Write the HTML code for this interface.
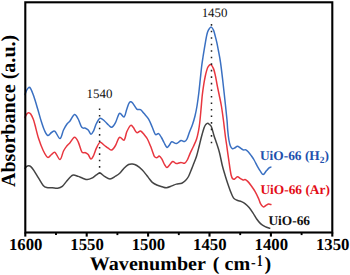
<!DOCTYPE html>
<html><head><meta charset="utf-8"><style>
html,body{margin:0;padding:0;background:#fff;width:350px;height:275px;overflow:hidden}
svg{display:block}
text{font-family:"Liberation Serif",serif;text-rendering:geometricPrecision}
.tl{font-size:16.75px;font-weight:bold;fill:#000}
.ax{font-size:20.1px;font-weight:bold;fill:#000}
.pk{font-size:12.9px;fill:#111}
.lg{font-size:13.4px;font-weight:bold}
</style></head><body>
<svg width="350" height="275" viewBox="0 0 350 275">
<rect x="0" y="0" width="350" height="275" fill="#fff"/>
<g fill="none" stroke-linejoin="round" stroke-linecap="round">
<path d="M25.00 168.30 C25.30 167.97 26.20 166.72 26.80 166.30 C27.40 165.88 27.93 165.75 28.60 165.80 C29.27 165.85 29.93 165.85 30.80 166.60 C31.67 167.35 32.50 168.37 33.80 170.30 C35.10 172.23 37.03 175.67 38.60 178.20 C40.17 180.73 41.83 183.93 43.20 185.50 C44.57 187.07 45.28 187.22 46.80 187.60 C48.32 187.98 50.48 187.70 52.30 187.80 C54.12 187.90 56.03 188.43 57.70 188.20 C59.37 187.97 60.78 187.60 62.30 186.40 C63.82 185.20 65.28 182.73 66.80 181.00 C68.32 179.27 70.27 177.02 71.40 176.00 C72.53 174.98 72.47 174.83 73.60 174.90 C74.73 174.97 76.68 175.85 78.20 176.40 C79.72 176.95 81.18 177.67 82.70 178.20 C84.22 178.73 85.78 179.60 87.30 179.60 C88.82 179.60 90.28 178.98 91.80 178.20 C93.32 177.42 95.03 175.75 96.40 174.90 C97.77 174.05 98.65 172.85 100.00 173.10 C101.35 173.35 102.83 175.40 104.50 176.40 C106.17 177.40 108.17 179.13 110.00 179.10 C111.83 179.07 113.83 177.22 115.50 176.20 C117.17 175.18 118.58 174.33 120.00 173.00 C121.42 171.67 122.57 169.62 124.00 168.20 C125.43 166.78 127.18 165.20 128.60 164.50 C130.02 163.80 131.13 163.83 132.50 164.00 C133.87 164.17 135.17 164.50 136.80 165.50 C138.43 166.50 140.63 168.33 142.30 170.00 C143.97 171.67 145.60 174.00 146.80 175.50 C148.00 177.00 148.58 177.87 149.50 179.00 C150.42 180.13 151.08 181.30 152.30 182.30 C153.52 183.30 155.13 184.25 156.80 185.00 C158.47 185.75 160.70 186.35 162.30 186.80 C163.90 187.25 164.82 187.85 166.40 187.70 C167.98 187.55 170.13 186.50 171.80 185.90 C173.47 185.30 174.73 184.55 176.40 184.10 C178.07 183.65 180.28 183.80 181.80 183.20 C183.32 182.60 184.38 181.62 185.50 180.50 C186.62 179.38 187.58 178.17 188.50 176.50 C189.42 174.83 190.22 172.42 191.00 170.50 C191.78 168.58 192.27 167.42 193.20 165.00 C194.13 162.58 195.60 159.17 196.60 156.00 C197.60 152.83 198.40 149.17 199.20 146.00 C200.00 142.83 200.58 140.05 201.40 137.00 C202.22 133.95 203.37 129.78 204.10 127.70 C204.83 125.62 205.20 125.25 205.80 124.50 C206.40 123.75 207.08 123.20 207.70 123.20 C208.32 123.20 208.88 123.90 209.50 124.50 C210.12 125.10 210.63 124.90 211.40 126.80 C212.17 128.70 213.25 133.20 214.10 135.90 C214.95 138.60 215.60 140.20 216.50 143.00 C217.40 145.80 218.53 148.95 219.50 152.70 C220.47 156.45 221.38 161.78 222.30 165.50 C223.22 169.22 224.10 172.00 225.00 175.00 C225.90 178.00 226.78 180.77 227.70 183.50 C228.62 186.23 229.75 189.40 230.50 191.40 C231.25 193.40 231.57 194.27 232.20 195.50 C232.83 196.73 233.38 197.97 234.30 198.80 C235.22 199.63 236.50 200.03 237.70 200.50 C238.90 200.97 240.23 201.05 241.50 201.60 C242.77 202.15 244.03 202.80 245.30 203.80 C246.57 204.80 247.83 206.08 249.10 207.60 C250.37 209.12 251.63 211.00 252.90 212.90 C254.17 214.80 255.43 217.22 256.70 219.00 C257.97 220.78 259.10 222.33 260.50 223.60 C261.90 224.87 263.57 225.82 265.10 226.60 C266.63 227.38 268.93 228.02 269.70 228.30" stroke="#444" stroke-width="1.5"/>
<path d="M25.00 117.50 C25.27 116.97 26.02 115.08 26.60 114.30 C27.18 113.52 27.82 112.85 28.50 112.80 C29.18 112.75 29.90 112.92 30.70 114.00 C31.50 115.08 32.58 117.47 33.30 119.30 C34.02 121.13 34.12 121.78 35.00 125.00 C35.88 128.22 37.23 134.35 38.60 138.60 C39.97 142.85 41.68 147.37 43.20 150.50 C44.72 153.63 46.32 156.73 47.70 157.40 C49.08 158.07 50.28 155.35 51.50 154.50 C52.72 153.65 53.58 151.47 55.00 152.30 C56.42 153.13 58.58 159.72 60.00 159.50 C61.42 159.28 62.37 153.25 63.50 151.00 C64.63 148.75 65.72 147.38 66.80 146.00 C67.88 144.62 68.72 144.15 70.00 142.70 C71.28 141.25 73.13 137.45 74.50 137.30 C75.87 137.15 76.98 139.38 78.20 141.80 C79.42 144.22 80.58 149.98 81.80 151.80 C83.02 153.62 84.43 152.25 85.50 152.70 C86.57 153.15 87.30 153.45 88.20 154.50 C89.10 155.55 90.00 158.83 90.90 159.00 C91.80 159.17 92.68 157.30 93.60 155.50 C94.52 153.70 95.33 150.38 96.40 148.20 C97.47 146.02 98.65 142.85 100.00 142.40 C101.35 141.95 103.13 144.53 104.50 145.50 C105.87 146.47 106.98 147.45 108.20 148.20 C109.42 148.95 110.58 150.45 111.80 150.00 C113.02 149.55 114.22 147.62 115.50 145.50 C116.78 143.38 118.07 138.18 119.50 137.30 C120.93 136.42 122.88 141.12 124.10 140.20 C125.32 139.28 125.73 134.25 126.80 131.80 C127.87 129.35 129.43 126.25 130.50 125.50 C131.57 124.75 132.15 126.10 133.20 127.30 C134.25 128.50 135.58 132.10 136.80 132.70 C138.02 133.30 139.28 130.60 140.50 130.90 C141.72 131.20 142.95 133.15 144.10 134.50 C145.25 135.85 146.33 137.08 147.40 139.00 C148.47 140.92 149.68 144.02 150.50 146.00 C151.32 147.98 151.63 149.13 152.30 150.90 C152.97 152.67 153.68 155.48 154.50 156.60 C155.32 157.72 156.42 157.70 157.20 157.60 C157.98 157.50 158.43 155.80 159.20 156.00 C159.97 156.20 161.08 157.72 161.80 158.80 C162.52 159.88 163.00 161.47 163.50 162.50 C164.00 163.53 164.23 164.15 164.80 165.00 C165.37 165.85 166.18 167.52 166.90 167.60 C167.62 167.68 168.13 166.52 169.10 165.50 C170.07 164.48 171.48 161.82 172.70 161.50 C173.92 161.18 175.03 163.45 176.40 163.60 C177.77 163.75 179.55 162.45 180.90 162.40 C182.25 162.35 183.43 163.70 184.50 163.30 C185.57 162.90 186.38 161.62 187.30 160.00 C188.22 158.38 188.98 155.85 190.00 153.60 C191.02 151.35 192.30 148.93 193.40 146.50 C194.50 144.07 195.75 141.58 196.60 139.00 C197.45 136.42 197.98 133.67 198.50 131.00 C199.02 128.33 199.28 126.58 199.70 123.00 C200.12 119.42 200.57 114.17 201.00 109.50 C201.43 104.83 201.83 99.22 202.30 95.00 C202.77 90.78 203.32 87.28 203.80 84.20 C204.28 81.12 204.75 78.68 205.20 76.50 C205.65 74.32 206.00 72.73 206.50 71.10 C207.00 69.47 207.47 67.78 208.20 66.70 C208.93 65.62 210.00 64.23 210.90 64.60 C211.80 64.97 212.87 67.10 213.60 68.90 C214.33 70.70 214.83 73.40 215.30 75.40 C215.77 77.40 216.05 79.07 216.40 80.90 C216.75 82.73 216.93 84.05 217.40 86.40 C217.87 88.75 218.53 91.73 219.20 95.00 C219.87 98.27 220.70 101.83 221.40 106.00 C222.10 110.17 222.87 116.00 223.40 120.00 C223.93 124.00 224.23 127.00 224.60 130.00 C224.97 133.00 225.23 135.33 225.60 138.00 C225.97 140.67 226.43 143.43 226.80 146.00 C227.17 148.57 227.45 150.90 227.80 153.40 C228.15 155.90 228.53 158.45 228.90 161.00 C229.27 163.55 229.63 166.37 230.00 168.70 C230.37 171.03 230.68 173.37 231.10 175.00 C231.52 176.63 231.97 177.80 232.50 178.50 C233.03 179.20 233.48 179.48 234.30 179.20 C235.12 178.92 236.37 176.90 237.40 176.80 C238.43 176.70 239.53 178.05 240.50 178.60 C241.47 179.15 242.45 179.95 243.20 180.10 C243.95 180.25 244.25 179.28 245.00 179.50 C245.75 179.72 246.63 180.32 247.70 181.40 C248.77 182.48 250.18 184.33 251.40 186.00 C252.62 187.67 253.80 189.30 255.00 191.40 C256.20 193.50 257.68 196.57 258.60 198.60 C259.52 200.63 259.73 202.22 260.50 203.60 C261.27 204.98 262.30 206.58 263.20 206.90 C264.10 207.22 265.00 205.97 265.90 205.50 C266.80 205.03 267.77 204.25 268.60 204.10 C269.43 203.95 270.52 204.52 270.90 204.60" stroke="#e8363f" stroke-width="1.5"/>
<path d="M25.00 94.50 C25.30 93.75 26.20 91.15 26.80 90.00 C27.40 88.85 27.98 87.88 28.60 87.60 C29.22 87.32 29.63 86.85 30.50 88.30 C31.37 89.75 32.60 92.85 33.80 96.30 C35.00 99.75 36.43 104.75 37.70 109.00 C38.97 113.25 40.27 118.22 41.40 121.80 C42.53 125.38 43.45 128.22 44.50 130.50 C45.55 132.78 46.53 135.17 47.70 135.50 C48.87 135.83 50.28 133.18 51.50 132.50 C52.72 131.82 53.58 130.38 55.00 131.40 C56.42 132.42 58.58 138.83 60.00 138.60 C61.42 138.37 62.33 132.43 63.50 130.00 C64.67 127.57 65.92 125.50 67.00 124.00 C68.08 122.50 68.75 122.58 70.00 121.00 C71.25 119.42 73.13 114.83 74.50 114.50 C75.87 114.17 76.98 116.87 78.20 119.00 C79.42 121.13 80.58 125.77 81.80 127.30 C83.02 128.83 84.43 127.75 85.50 128.20 C86.57 128.65 87.28 129.00 88.20 130.00 C89.12 131.00 90.10 134.07 91.00 134.20 C91.90 134.33 92.70 132.58 93.60 130.80 C94.50 129.02 95.32 125.60 96.40 123.50 C97.48 121.40 98.75 118.62 100.10 118.20 C101.45 117.78 103.10 119.87 104.50 121.00 C105.90 122.13 107.28 123.95 108.50 125.00 C109.72 126.05 110.63 127.68 111.80 127.30 C112.97 126.92 114.22 125.03 115.50 122.70 C116.78 120.37 118.08 114.25 119.50 113.30 C120.92 112.35 122.82 117.58 124.00 117.00 C125.18 116.42 125.83 111.97 126.60 109.80 C127.37 107.63 127.97 105.33 128.60 104.00 C129.23 102.67 129.73 101.97 130.40 101.80 C131.07 101.63 131.53 101.78 132.60 103.00 C133.67 104.22 135.48 108.00 136.80 109.10 C138.12 110.20 139.28 108.85 140.50 109.60 C141.72 110.35 142.75 112.02 144.10 113.60 C145.45 115.18 147.23 116.82 148.60 119.10 C149.97 121.38 151.17 124.73 152.30 127.30 C153.43 129.87 154.35 133.45 155.40 134.50 C156.45 135.55 157.60 133.10 158.60 133.60 C159.60 134.10 160.50 136.02 161.40 137.50 C162.30 138.98 163.08 140.87 164.00 142.50 C164.92 144.13 166.05 146.80 166.90 147.30 C167.75 147.80 168.28 146.42 169.10 145.50 C169.92 144.58 170.58 142.12 171.80 141.80 C173.02 141.48 174.88 143.82 176.40 143.60 C177.92 143.38 179.55 140.85 180.90 140.50 C182.25 140.15 183.48 141.75 184.50 141.50 C185.52 141.25 186.17 140.58 187.00 139.00 C187.83 137.42 188.58 134.42 189.50 132.00 C190.42 129.58 191.58 127.17 192.50 124.50 C193.42 121.83 194.25 119.08 195.00 116.00 C195.75 112.92 196.37 109.83 197.00 106.00 C197.63 102.17 198.25 97.50 198.80 93.00 C199.35 88.50 199.82 83.50 200.30 79.00 C200.78 74.50 201.25 69.67 201.70 66.00 C202.15 62.33 202.55 59.93 203.00 57.00 C203.45 54.07 203.98 50.93 204.40 48.40 C204.82 45.87 205.15 43.80 205.50 41.80 C205.85 39.80 206.15 38.03 206.50 36.40 C206.85 34.77 207.13 33.28 207.60 32.00 C208.07 30.72 208.68 29.52 209.30 28.70 C209.92 27.88 210.58 26.82 211.30 27.10 C212.02 27.38 212.93 28.85 213.60 30.40 C214.27 31.95 214.75 34.32 215.30 36.40 C215.85 38.48 216.42 40.72 216.90 42.90 C217.38 45.08 217.60 46.27 218.20 49.50 C218.80 52.73 219.75 57.22 220.50 62.30 C221.25 67.38 221.97 73.72 222.70 80.00 C223.43 86.28 224.18 93.33 224.90 100.00 C225.62 106.67 226.53 115.00 227.00 120.00 C227.47 125.00 227.38 126.67 227.70 130.00 C228.02 133.33 228.45 137.33 228.90 140.00 C229.35 142.67 229.82 144.55 230.40 146.00 C230.98 147.45 231.63 148.42 232.40 148.70 C233.17 148.98 234.17 148.10 235.00 147.70 C235.83 147.30 236.48 146.23 237.40 146.30 C238.32 146.37 239.53 147.50 240.50 148.10 C241.47 148.70 242.30 149.60 243.20 149.90 C244.10 150.20 245.00 149.50 245.90 149.90 C246.80 150.30 247.68 151.30 248.60 152.30 C249.52 153.30 250.48 154.62 251.40 155.90 C252.32 157.18 253.05 158.18 254.10 160.00 C255.15 161.82 256.63 164.90 257.70 166.80 C258.77 168.70 259.58 170.10 260.50 171.40 C261.42 172.70 262.22 174.70 263.20 174.60 C264.18 174.50 265.42 171.93 266.40 170.80 C267.38 169.67 268.35 168.42 269.10 167.80 C269.85 167.18 270.60 167.22 270.90 167.10" stroke="#3a70c2" stroke-width="1.5"/>
</g>
<line x1="99.6" y1="108.5" x2="99.6" y2="173.5" stroke="#222" stroke-width="1.5" stroke-dasharray="1.6 4.8"/>
<line x1="211.5" y1="24.1" x2="211.5" y2="143.5" stroke="#222" stroke-width="1.5" stroke-dasharray="1.6 4.93"/>
<rect x="25.3" y="2.3" width="307.0" height="230.2" fill="none" stroke="#000" stroke-width="2.1"/>
<line x1="25.30" y1="232.50" x2="25.30" y2="236.6" stroke="#000" stroke-width="2.1"/><line x1="86.70" y1="232.50" x2="86.70" y2="236.6" stroke="#000" stroke-width="2.1"/><line x1="148.10" y1="232.50" x2="148.10" y2="236.6" stroke="#000" stroke-width="2.1"/><line x1="209.50" y1="232.50" x2="209.50" y2="236.6" stroke="#000" stroke-width="2.1"/><line x1="270.90" y1="232.50" x2="270.90" y2="236.6" stroke="#000" stroke-width="2.1"/><line x1="332.30" y1="232.50" x2="332.30" y2="236.6" stroke="#000" stroke-width="2.1"/><line x1="56.00" y1="232.50" x2="56.00" y2="235.1" stroke="#000" stroke-width="1.9"/><line x1="117.40" y1="232.50" x2="117.40" y2="235.1" stroke="#000" stroke-width="1.9"/><line x1="178.80" y1="232.50" x2="178.80" y2="235.1" stroke="#000" stroke-width="1.9"/><line x1="240.20" y1="232.50" x2="240.20" y2="235.1" stroke="#000" stroke-width="1.9"/><line x1="301.60" y1="232.50" x2="301.60" y2="235.1" stroke="#000" stroke-width="1.9"/>
<text x="25.65" y="250.2" text-anchor="middle" class="tl">1600</text><text x="87.05" y="250.2" text-anchor="middle" class="tl">1550</text><text x="148.45" y="250.2" text-anchor="middle" class="tl">1500</text><text x="209.85" y="250.2" text-anchor="middle" class="tl">1450</text><text x="271.25" y="250.2" text-anchor="middle" class="tl">1400</text><text x="332.65" y="250.2" text-anchor="middle" class="tl">1350</text>
<text x="99.45" y="98" text-anchor="middle" class="pk">1540</text>
<text x="214.55" y="17.1" text-anchor="middle" class="pk">1450</text>
<text x="259.9" y="160.4" class="lg" fill="#2150ad">UiO-66 (H<tspan font-size="9.5px" dy="2.4">2</tspan><tspan dy="-2.4">)</tspan></text>
<text x="260.4" y="193.95" class="lg" fill="#e30d17">UiO-66 (Ar)</text>
<text x="268.4" y="224.6" class="lg" fill="#111">UiO-66</text>
<text transform="translate(89.8 269.6) scale(1 0.96)" class="ax">Wavenumber <tspan dx="2.2">( cm</tspan></text>
<text x="251.0" y="266.7" class="ax" style="font-size:14px">-</text>
<text transform="translate(257.1 265.9) scale(0.68 1)" class="ax" style="font-size:16.3px">1</text>
<text transform="translate(264.5 269.6) scale(1 0.96)" class="ax">)</text>
<text transform="translate(14.9 187.1) rotate(-90)" class="ax">Absorbance (a.u.)</text>
</svg>
</body></html>
